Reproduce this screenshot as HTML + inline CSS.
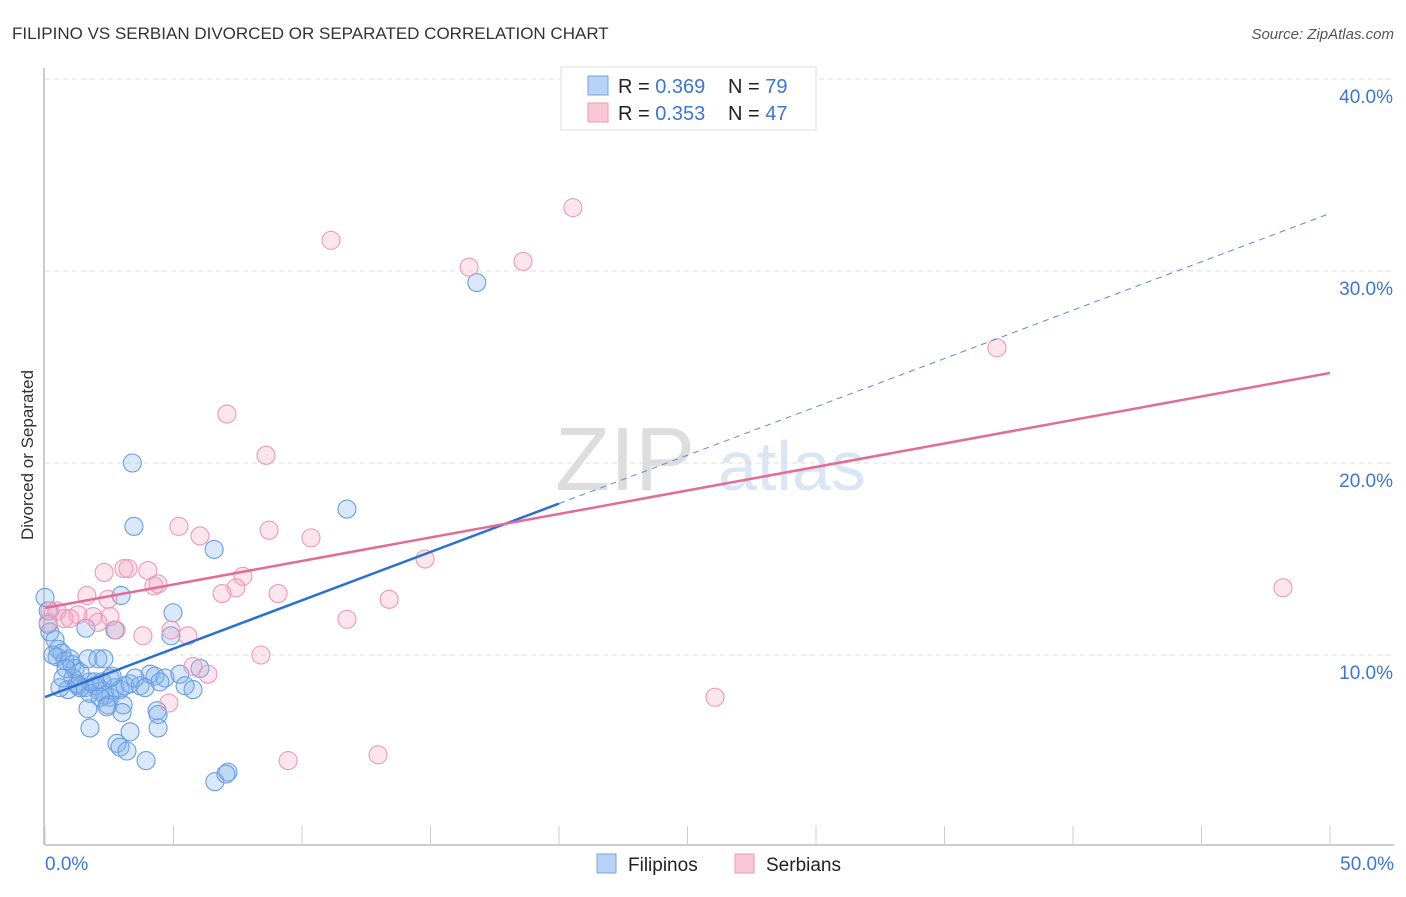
<!DOCTYPE html>
<html><head><meta charset="utf-8"><style>
body{margin:0;background:#fff;font-family:"Liberation Sans",sans-serif;}
svg text{font-family:"Liberation Sans",sans-serif;}
</style></head><body>
<svg id="chart" width="1406" height="892">
<text x="12" y="39" font-size="17" fill="#333">FILIPINO VS SERBIAN DIVORCED OR SEPARATED CORRELATION CHART</text>
<text x="1394" y="39" font-size="15" fill="#555" font-style="italic" text-anchor="end">Source: ZipAtlas.com</text>
<text transform="translate(33,455) rotate(-90)" font-size="17" fill="#333" text-anchor="middle">Divorced or Separated</text>
<g><text x="555" y="490" font-size="90" fill="#ddd" font-family="Liberation Serif">ZIP</text><text x="718" y="490" font-size="70" fill="#dbe6f5">atlas</text></g>
<g id="grid"></g><g id="axes"></g><g id="pts"></g><g id="lines"></g>
<g>
<rect x="561" y="67" width="255" height="63" fill="#fff" stroke="#ddd"/>
<rect x="588" y="76" width="20" height="19" fill="#b7d3f5" stroke="#7aa6e0"/>
<text x="618" y="93" font-size="20" fill="#222">R = <tspan fill="#3d76d4">0.369</tspan></text>
<text x="728" y="93" font-size="20" fill="#222">N = <tspan fill="#3d76d4">79</tspan></text>
<rect x="588" y="103" width="20" height="19" fill="#f9c6d5" stroke="#e99ab5"/>
<text x="618" y="120" font-size="20" fill="#222">R = <tspan fill="#3d76d4">0.353</tspan></text>
<text x="728" y="120" font-size="20" fill="#222">N = <tspan fill="#3d76d4">47</tspan></text>
</g>
<g>
<rect x="597" y="854" width="19" height="19" fill="#b7d3f5" stroke="#7aa6e0"/>
<text x="628" y="871" font-size="19" fill="#222">Filipinos</text>
<rect x="735" y="854" width="19" height="19" fill="#f9c6d5" stroke="#e99ab5"/>
<text x="766" y="871" font-size="19" fill="#222">Serbians</text>
</g>
</svg>
<script>
const yTicks=[10,20,30,40];
const yTickLabels=["10.0%","20.0%","30.0%","40.0%"];
const xTicks=[0,5,10,15,20,25,30,35,40,45,50];
const xEndLabels=["0.0%","50.0%"];
const filX=[16.8,3.4,11.75,3.46,6.58,2.96,4.98,1.59,2.72,4.9,0,0.12,0.19,0.39,0.51,0.47,0.66,0.78,0.97,1.05,1.17,1.36,1.67,2.06,2.29,1.09,1.28,1.56,1.75,1.95,2.14,2.33,2.53,2.72,2.92,3.11,3.31,3.7,4.09,4.28,4.67,5.25,5.45,5.76,6.03,0.89,0.58,1.67,2.45,3.04,3.0,4.36,4.4,4.4,1.75,3.31,2.8,2.92,3.19,3.93,6.61,7.12,7.04,2.53,1.95,2.22,3.5,3.89,4.47,1.75,1.36,0.82,0.31,0.12,2.61,2.14,2.41,1.25,0.7];
const filY=[29.4,20.0,17.6,16.7,15.5,13.1,12.2,11.4,11.3,11.0,13.0,12.3,11.2,10.8,10.3,9.9,10.1,9.7,9.8,9.5,9.3,9.1,9.8,9.8,9.8,8.8,8.4,8.3,8.0,8.4,8.1,7.9,7.8,8.3,8.2,8.4,8.5,8.4,9.0,8.9,8.8,9.0,8.4,8.2,9.3,8.2,8.3,7.2,7.4,7.4,7.0,7.1,6.9,6.2,6.2,6.0,5.4,5.2,5.0,4.5,3.4,3.9,3.8,8.8,8.6,8.6,8.8,8.3,8.6,8.6,8.3,9.3,10.0,11.6,8.9,7.8,7.3,8.5,8.8];
const serX=[20.54,11.13,16.5,18.6,37.04,7.08,8.6,5.21,8.72,6.03,10.35,14.79,2.3,3.07,3.23,4.0,4.24,4.4,7.7,7.43,6.89,9.07,13.39,1.63,2.45,0.47,1.28,0.74,0.97,1.87,2.06,2.76,3.81,4.9,5.56,11.75,48.17,8.4,5.76,6.34,26.07,4.82,9.46,12.96,0.12,0.19,2.53];
const serY=[33.3,31.6,30.2,30.5,26.0,22.55,20.4,16.7,16.5,16.2,16.1,15.0,14.3,14.5,14.5,14.4,13.6,13.7,14.1,13.5,13.2,13.2,12.9,13.1,12.9,12.3,12.1,11.9,11.9,12.0,11.7,11.3,11.0,11.3,11.0,11.86,13.5,10.0,9.4,9.0,7.8,7.5,4.5,4.8,11.7,12.3,12.0];
const trendStart=[7.81,12.45];
const trendEnd=[33.0,24.69];
const blueSolidEnd=20;
const NS="http://www.w3.org/2000/svg";
const X=v=>45+v*25.7, Y=v=>847-v*19.2;
function mk(p,t,a){const e=document.createElementNS(NS,t);for(const k in a)e.setAttribute(k,a[k]);document.getElementById(p).appendChild(e);return e;}
yTicks.forEach((v,i)=>{
 const g=mk('grid','line',{x1:45,x2:1394,y1:Y(v),y2:Y(v),stroke:'#ddd','stroke-dasharray':'5,4'});
 
 
 const t=mk('grid','text',{x:1393,y:Y(v)+24,'font-size':19,fill:'#3d76d4','text-anchor':'end'});t.textContent=yTickLabels[i];
 
 
});
const ax=mk('axes','line',{x1:45,x2:1394,y1:845,y2:845,stroke:'#bbb','stroke-width':1.5});


const ay=mk('axes','line',{x1:44,x2:44,y1:68,y2:845,stroke:'#bbb','stroke-width':1.5});


xTicks.forEach(v=>{const l=mk('axes','line',{x1:X(v),x2:X(v),y1:826,y2:845,stroke:'#ccc'});
 
 });
const xl0=mk('axes','text',{x:45,y:870,'font-size':19,fill:'#3d76d4'});xl0.textContent=xEndLabels[0];


const xl1=mk('axes','text',{x:1394,y:870,'font-size':19,fill:'#3d76d4','text-anchor':'end'});xl1.textContent=xEndLabels[1];


filX.forEach((x,i)=>{const c=mk('pts','circle',{cx:X(x),cy:Y(filY[i]),r:9,fill:'rgba(130,180,240,0.3)',stroke:'#6a9de0','stroke-width':1.1});
 
 });
serX.forEach((x,i)=>{const c=mk('pts','circle',{cx:X(x),cy:Y(serY[i]),r:9,fill:'rgba(245,160,190,0.28)',stroke:'#eb9ab7','stroke-width':1.1});
 
 });
const bAt=x=>trendStart[0]+(trendEnd[0]-trendStart[0])*x/50;
const b1=mk('lines','line',{x1:X(0),y1:Y(bAt(0)),x2:X(blueSolidEnd),y2:Y(bAt(blueSolidEnd)),stroke:'#2a6fd6','stroke-width':2.5});


const b2=mk('lines','line',{x1:X(blueSolidEnd),y1:Y(bAt(blueSolidEnd)),x2:X(50),y2:Y(bAt(50)),stroke:'#5b8fd9','stroke-width':1,'stroke-dasharray':'6,5'});


const p1=mk('lines','line',{x1:X(0),y1:Y(trendStart[1]),x2:X(50),y2:Y(trendEnd[1]),stroke:'#e56b97','stroke-width':2.5});


</script>
</body></html>
